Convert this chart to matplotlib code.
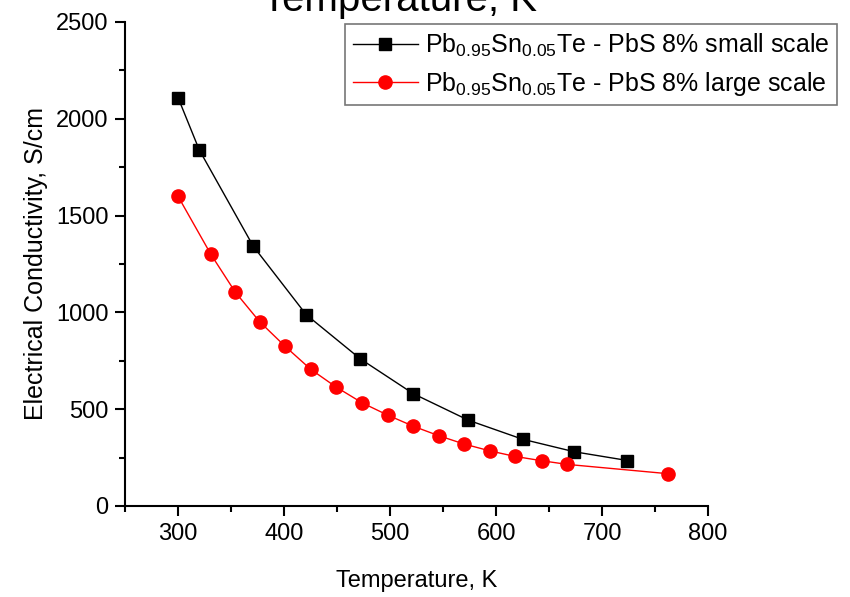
import matplotlib
matplotlib.use("Agg")
import matplotlib.pyplot as plt

plt.rcParams['font.family'] = ['Liberation Sans', 'DejaVu Sans']
plt.rcParams['mathtext.fontset'] = 'custom'
plt.rcParams['mathtext.rm'] = 'Liberation Sans'
plt.rcParams['mathtext.it'] = 'Liberation Sans:italic'
plt.rcParams['mathtext.bf'] = 'Liberation Sans:bold'

# Data
T_small = [300, 320, 371, 421, 472, 522, 574, 625, 674, 724]
sigma_small = [2110, 1840, 1342, 988, 760, 580, 443, 345, 280, 235]

T_large = [300, 331, 354, 377, 401, 425, 449, 474, 498, 522, 546, 570, 594, 618, 643, 667, 762]
sigma_large = [1600, 1300, 1105, 952, 825, 707, 615, 532, 469, 412, 363, 320, 285, 256, 234, 215, 167]

label_small = r'Pb$_{\mathrm{0.95}}$Sn$_{\mathrm{0.05}}$Te - PbS 8% small scale'
label_large = r'Pb$_{\mathrm{0.95}}$Sn$_{\mathrm{0.05}}$Te - PbS 8% large scale'

fig = plt.figure(figsize=(8.5, 5.97), dpi=100)
ax = fig.add_axes([125/850, 1-506/597, (708-125)/850, (506-22)/597])

ax.plot(T_small, sigma_small, color='black', lw=1, marker='s', ms=8.5,
        markerfacecolor='black', markeredgecolor='black', label=label_small)
ax.plot(T_large, sigma_large, color='red', lw=1, marker='o', ms=9.5,
        markerfacecolor='red', markeredgecolor='red', label=label_large)

ax.set_xlim(250, 800)
ax.set_ylim(0, 2500)
ax.set_xticks([300, 400, 500, 600, 700, 800])
ax.set_xticks([250, 350, 450, 550, 650, 750], minor=True)
ax.set_yticks([0, 500, 1000, 1500, 2000, 2500])
ax.set_yticks([250, 750, 1250, 1750, 2250], minor=True)
ax.spines['top'].set_visible(False)
ax.spines['right'].set_visible(False)
for s in ('left', 'bottom'):
    ax.spines[s].set_linewidth(1.5)
ax.tick_params(which='major', length=7, width=1.5, labelsize=17, direction='out', pad=5)
ax.tick_params(which='minor', length=4, width=1.5, direction='out')

ax.set_xlabel('Temperature, K', fontsize=17, labelpad=18)
ax.set_ylabel('Electrical Conductivity, S/cm', fontsize=18, labelpad=6)

fig.text(400/850, 1-11/597, 'Temperature, K', ha='center', va='baseline', fontsize=29)

leg = ax.legend(loc='upper left', bbox_to_anchor=(345/850, 1-24/597),
                bbox_transform=fig.transFigure, fontsize=18, frameon=True,
                fancybox=False, edgecolor='#555555', handlelength=2.6,
                handletextpad=0.3, borderpad=0.3, labelspacing=0.45,
                borderaxespad=0)
leg.get_frame().set_linewidth(1.2)

fig.savefig('out.png', dpi=100)
